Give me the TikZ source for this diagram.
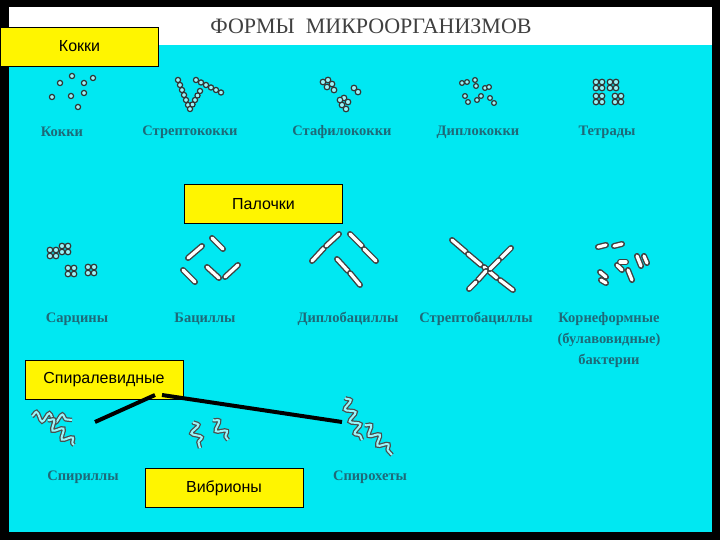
\documentclass[tikz,border=0pt]{standalone}
\usepackage{fontspec}
\setmainfont{Liberation Serif}
\newfontfamily\boxfont{Liberation Sans}
\usetikzlibrary{decorations.pathmorphing}
\definecolor{cy}{RGB}{0,232,242}
\definecolor{lab}{RGB}{30,105,120}
\definecolor{yel}{RGB}{255,245,0}
\tikzset{x=1pt,y=-1pt,
 ybox/.style={draw=black,line width=0.8pt,fill=yel,minimum width=158pt,minimum height=39pt,font=\boxfont\fontsize{16}{18}\selectfont,inner sep=0pt},
 lbl/.style={text=lab,font=\fontsize{14.5}{21}\selectfont\bfseries,align=center},
 cell/.style={draw=black!80,line width=1.2pt,fill=cy!40!white},
 conn/.style={line width=4pt,black}}
\newcommand{\cc}[2]{\draw[cell] (#1,#2) circle (2.6);}
\newcommand{\rod}[4]{\draw[line width=6pt,line cap=round,black!75] (#1,#2)--(#3,#4);\draw[line width=3.2pt,line cap=round,white] (#1,#2)--(#3,#4);}
\newcommand{\sq}[4]{\draw[line width=4.5pt,black!70,decorate,decoration={snake,amplitude=4.5pt,segment length=13pt}] (#1,#2)--(#3,#4);\draw[line width=2pt,cy!40!white,decorate,decoration={snake,amplitude=4.5pt,segment length=13pt}] (#1,#2)--(#3,#4);}
\begin{document}
\begin{tikzpicture}
\fill[black] (0,0) rectangle (720,540);
\fill[cy] (9,7) rectangle (712,532);
\fill[white] (9,7) rectangle (712,45);
\node[font=\fontsize{22}{24}\selectfont,text=black!75] (title) at (371,26) {ФОРМЫ \ МИКРООРГАНИЗМОВ};
% cocci
\foreach \p in {(72,76),(60,83),(84,83),(93,78),(52,97),(71,96),(84,93),(78,107)} {\draw[cell] \p circle (2.6);}
% strepto
\foreach \i in {0,...,5} {\cc{178+\i*2}{80+\i*5}}
\foreach \i in {0,...,5} {\cc{196+\i*5}{80+\i*2.5}}
\foreach \i in {0,...,4} {\cc{200-\i*2.5}{91+\i*4.5}}
% staph
\foreach \p in {(323,82),(328,80),(332,84),(327,87),(334,90),(344,98),(348,102),(342,105),(346,109),(340,100)} {\draw[cell] \p circle (2.8);}
\foreach \p in {(354,88),(358,92)} {\draw[cell] \p circle (2.8);}
% diplo
\foreach \p in {(462,83),(467,82),(475,80),(476,86),(465,96),(468,102),(477,100),(481,96),(490,98),(494,103),(485,88),(489,87)} {\draw[cell] \p circle (2.4);}
% tetrads
\foreach \x/\y in {596/82,610/82,596/96,615/96} {\foreach \dx in {0,6}{\foreach \dy in {0,6}{\draw[cell] (\x+\dx,\y+\dy) circle (2.8);}}}
% labels row1
\node[lbl] (k1) at (62,132) {Кокки};
\node[lbl] (k2) at (190,132) {Стрептококки};
\node[lbl] (k3) at (342,132) {Стафилококки};
\node[lbl] (k4) at (478,132) {Диплококки};
\node[lbl] (k5) at (607,132) {Тетрады};
% sarcina
\foreach \x/\y in {50/250,62/246,68/268,88/267} {\foreach \dx in {0,6}{\foreach \dy in {0,6}{\draw[cell] (\x+\dx,\y+\dy) circle (2.8);}}}
% bacilli
\rod{188}{258}{202}{246} \rod{212}{238}{223}{249} \rod{183}{270}{195}{282} \rod{207}{267}{219}{278} \rod{225}{277}{238}{265}
% diplobacilli
\rod{312}{261}{324}{248} \rod{326}{246}{339}{234} \rod{350}{234}{362}{246} \rod{364}{249}{376}{261} \rod{337}{259}{348}{271} \rod{350}{273}{360}{285}
% streptobacilli
\rod{452}{240}{466}{252} \rod{468}{254}{481}{265} \rod{484}{267}{497}{278} \rod{500}{280}{513}{290}
\rod{511}{248}{501}{258} \rod{499}{260}{490}{269} \rod{486}{271}{478}{280} \rod{476}{282}{469}{289}
% coryne
\rod{598}{247}{606}{245} \rod{614}{246}{622}{244} \rod{637}{256}{641}{266} \rod{644}{256}{647}{263} \rod{600}{272}{606}{277} \rod{617}{265}{622}{270} \rod{620}{262}{626}{262} \rod{628}{270}{632}{280} \rod{601}{280}{606}{283}
% labels row2
\node[lbl] (s1) at (77,319) {Сарцины};
\node[lbl] (s2) at (205,319) {Бациллы};
\node[lbl] (s3) at (348,319) {Диплобациллы};
\node[lbl] (s4) at (476,319) {Стрептобациллы};
\node[lbl] (s5) at (609,340) {Корнеформные\\(булавовидные)\\бактерии};
% spirilla
\sq{32}{416}{72}{420} \sq{48}{420}{74}{445}
% vibrio
\sq{193}{422}{200}{448} \sq{213}{420}{228}{440}
% spirochete
\sq{345}{398}{362}{440} \sq{365}{425}{392}{455}
\node[lbl] (l1) at (83,477) {Спириллы};
\node[lbl] (l2) at (370,477) {Спирохеты};
% boxes
\node[ybox] (kokki) at (79.5,46.5) {Кокки};
\node[ybox] (pal) at (263.5,204) {Палочки};
\node[ybox] (spir) at (104,380) {Спиралевидные};
\node[ybox] (vib) at (224,488) {Вибрионы};
\coordinate (a1) at (95,422);
\coordinate (a2) at (342,422);
\draw[conn] (a1) -- (155,395);
\draw[conn] (162,395) -- (a2);
\end{tikzpicture}
\end{document}
